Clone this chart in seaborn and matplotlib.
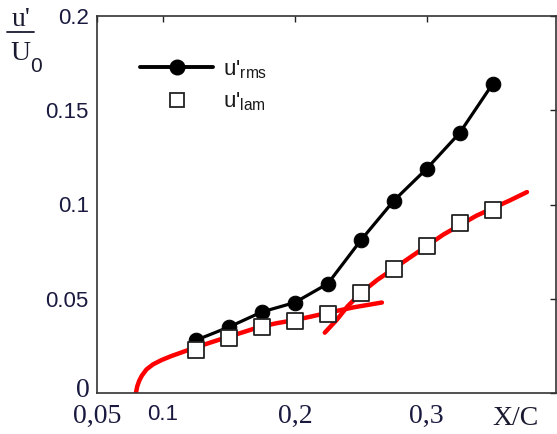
import matplotlib
matplotlib.use("Agg")
import matplotlib.pyplot as plt
from matplotlib.lines import Line2D
import seaborn as sns
import pandas as pd

# ---- data ----
x_pts = [0.125, 0.15, 0.175, 0.2, 0.225, 0.25, 0.275, 0.3, 0.325, 0.35]
u_rms = [0.028, 0.035, 0.043, 0.048, 0.058, 0.081, 0.102, 0.119, 0.138, 0.164]
u_lam = [0.023, 0.029, 0.035, 0.038, 0.042, 0.053, 0.066, 0.078, 0.090, 0.097]

red1_x = [0.0795, 0.0805, 0.082, 0.084, 0.0875, 0.0925, 0.099, 0.106, 0.114, 0.124,
          0.137, 0.149, 0.161, 0.173, 0.186, 0.2, 0.212, 0.224, 0.245, 0.266]
red1_y = [0.0, 0.0035, 0.0065, 0.0092, 0.0125, 0.0152, 0.0175, 0.0195, 0.0215, 0.024,
          0.027, 0.0297, 0.0323, 0.035, 0.037, 0.0387, 0.0405, 0.0424, 0.0455, 0.048]

red2_x = [0.2227, 0.232, 0.24, 0.25, 0.2625, 0.275, 0.2875, 0.3, 0.3125, 0.325, 0.3375, 0.35, 0.3625, 0.376]
red2_y = [0.032, 0.039, 0.046, 0.053, 0.060, 0.066, 0.072, 0.078, 0.084, 0.089, 0.094, 0.098, 0.102, 0.1066]

xtick_vals = [0.05, 0.1, 0.2, 0.3]
xtick_labels = ["0,05", "0.1", "0,2", "0,3"]
xtick_serif = [True, False, True, True]
ytick_vals = [0.05, 0.1, 0.15, 0.2]
ytick_labels = ["0.05", "0.1", "0.15", "0.2"]
zero_label = "0"

sns.set_theme(style="white")
plt.rcParams["font.family"] = ["Liberation Sans", "DejaVu Sans"]
plt.rcParams["mathtext.fontset"] = "custom"
plt.rcParams["mathtext.rm"] = "Liberation Sans"
plt.rcParams["mathtext.it"] = "Liberation Sans"

W, H = 557, 434
fig = plt.figure(figsize=(W / 100, H / 100), dpi=100)
ax = fig.add_axes([97 / W, 1 - 393 / H, (556 - 97) / W, (393 - 16) / H])

df_pts = pd.DataFrame({"x": x_pts, "rms": u_rms, "lam": u_lam})
df_r1 = pd.DataFrame({"x": red1_x, "y": red1_y})
df_r2 = pd.DataFrame({"x": red2_x, "y": red2_y})

sns.lineplot(data=df_r1, x="x", y="y", color="#ff0000", lw=3.2, sort=False, ax=ax, zorder=2)
sns.lineplot(data=df_r2, x="x", y="y", color="#ff0000", lw=3.2, sort=False, ax=ax, zorder=2)
sns.lineplot(data=df_pts, x="x", y="rms", color="black", lw=2.3, marker="o",
             markersize=10.5, markeredgecolor="black", sort=False, ax=ax, zorder=3)
sns.scatterplot(data=df_pts, x="x", y="lam", marker="s", s=125, facecolor="white",
                edgecolor="#222222", linewidth=1.3, ax=ax, zorder=4)

ax.set_xlim(0.05, 0.398)
ax.set_ylim(0, 0.2)
ax.set_xlabel("")
ax.set_ylabel("")

ax.set_xticks(xtick_vals, xtick_labels)
ax.set_yticks([0] + ytick_vals, [""] + ytick_labels)
for lbl, serif in zip(ax.get_xticklabels(), xtick_serif):
    if serif:
        lbl.set_fontfamily("Liberation Serif")
        lbl.set_fontsize(20)
    else:
        lbl.set_fontsize(16)
    lbl.set_color("#1a1a40")
for lbl in ax.get_yticklabels():
    lbl.set_fontsize(16)
    lbl.set_color("#1a1a40")

ax.tick_params(axis="both", direction="in", length=4, width=1.0, color="#222222",
               top=True, right=True, labeltop=False, labelright=False)
ax.tick_params(axis="x", pad=8)
ax.tick_params(axis="y", pad=6)
for sp in ax.spines.values():
    sp.set_color("#333333")
    sp.set_linewidth(1.2)

# zero label on the y axis (serif, slightly raised as in the reference)
ax.annotate(zero_label, xy=(0, 0), xycoords="axes fraction", xytext=(-5, 2),
            textcoords="offset points", ha="right", va="center", fontsize=20,
            family="Liberation Serif", color="#1a1a40")

# X/C label placed like a tick label
ax.text(0.367, -0.007, "X/C", transform=ax.transData, ha="center", va="top",
        fontsize=20, family="Liberation Serif", color="#1a1a30")

# y label as a fraction
def fx(px):
    return px / W

def fy(py):
    return 1 - py / H

fig.text(fx(21), fy(19), "u'", ha="center", va="center", fontsize=20,
         family="Liberation Serif", color="#1a1a30")
fig.add_artist(Line2D([fx(7), fx(34)], [fy(32), fy(32)], color="#1a1a30", lw=1.3,
                      transform=fig.transFigure))
fig.text(fx(20), fy(53), "U", ha="center", va="center", fontsize=20,
         family="Liberation Serif", color="#1a1a30")
fig.text(fx(36), fy(67), "0", ha="center", va="center", fontsize=15,
         family="Liberation Sans", color="#1a1a30")

# legend
h1 = Line2D([], [], color="black", lw=2.8, marker="o", markersize=10.5)
h2 = Line2D([], [], color="none", marker="s", markersize=10.5, markerfacecolor="white",
            markeredgecolor="#222222", markeredgewidth=1.3)
leg = ax.legend([h1, h2], [r"u'$_{\mathrm{rms}}$", r"u'$_{\mathrm{lam}}$"],
                loc="upper left", bbox_to_anchor=(0.06, 0.93), frameon=False,
                fontsize=16, handlelength=3.3, handletextpad=0.45, labelspacing=0.45,
                borderpad=0.2)
for t in leg.get_texts():
    t.set_color("#1a1a1a")

fig.savefig("out.png", dpi=100)
